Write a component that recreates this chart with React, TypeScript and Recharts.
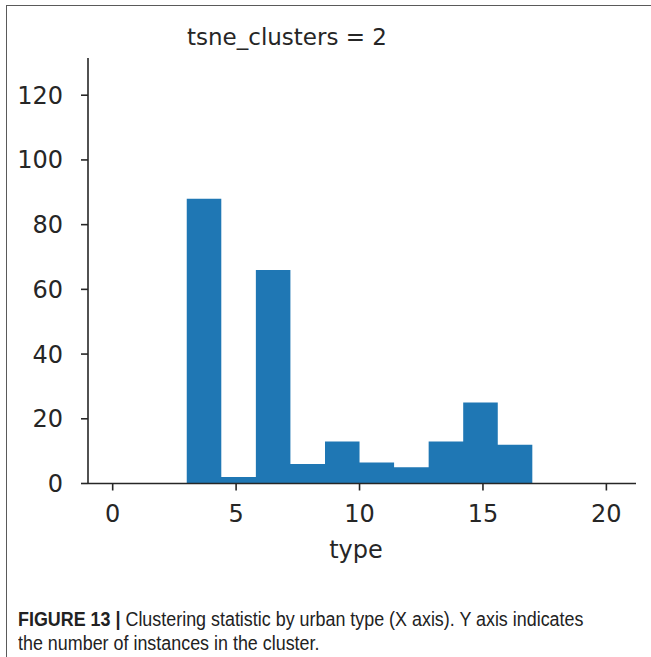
import React from "react";
import { ComposedChart, Area, XAxis, YAxis } from "recharts";

// histogram bins
const binEdges = [3, 4.4, 5.8, 7.2, 8.6, 10, 11.4, 12.8, 14.2, 15.6, 17];
const counts = [88, 2, 66, 6, 13, 6.5, 5, 13, 25, 12];
const xTicks = [0, 5, 10, 15, 20];
const yTicks = [0, 20, 40, 60, 80, 100, 120];

const title = "tsne_clusters = 2";
const xLabel = "type";

// step points: each bin starts at its left edge, the last edge closes it
const stepData = binEdges.map((x, i) => ({ x, y: i < counts.length ? counts[i] : 0 }));

const INK = "#262626";
const BLUE = "#1f77b4";
const FONT = "'DejaVu Sans', sans-serif";

const tickStyle = { fill: INK, fontSize: 24, fontFamily: FONT };

export default function App() {
  return (
    <div
      style={{
        position: "absolute",
        left: 0,
        top: 0,
        width: 651,
        height: 657,
        background: "#fff",
        overflow: "hidden",
      }}
    >
      {/* figure frame, only top and left edges show */}
      <div
        style={{
          position: "absolute",
          left: 6,
          top: 5,
          width: 660,
          height: 670,
          borderTop: "1.5px solid #5a5a5a",
          borderLeft: "1.5px solid #5a5a5a",
        }}
      />

      <div
        style={{
          position: "absolute",
          left: 0,
          top: 24,
          width: 574,
          textAlign: "center",
          fontFamily: FONT,
          fontSize: 23,
          color: INK,
          whiteSpace: "pre",
        }}
      >
        {title}
      </div>

      <div style={{ position: "absolute", left: 0, top: 0 }}>
        <ComposedChart
          width={651}
          height={530}
          data={stepData}
          margin={{ top: 58, right: 15, bottom: 0, left: 8 }}
        >
          <XAxis
            dataKey="x"
            type="number"
            domain={[-1, 21.2]}
            ticks={xTicks}
            allowDataOverflow
            height={46.5}
            tick={tickStyle}
            tickSize={7}
            tickMargin={14}
            axisLine={{ stroke: INK, strokeWidth: 1.6 }}
            tickLine={{ stroke: INK, strokeWidth: 1.6 }}
          />
          <YAxis
            type="number"
            domain={[0, 131.5]}
            ticks={yTicks}
            allowDataOverflow
            width={80}
            tick={tickStyle}
            tickSize={7}
            tickMargin={18}
            axisLine={{ stroke: INK, strokeWidth: 1.6 }}
            tickLine={{ stroke: INK, strokeWidth: 1.6 }}
          />
          <Area
            dataKey="y"
            type="stepAfter"
            baseValue={0}
            stroke="none"
            fill={BLUE}
            fillOpacity={1}
            dot={false}
            activeDot={false}
            isAnimationActive={false}
          />
        </ComposedChart>
      </div>

      <div
        style={{
          position: "absolute",
          left: 300,
          top: 536,
          width: 112,
          textAlign: "center",
          fontFamily: FONT,
          fontSize: 24,
          color: INK,
        }}
      >
        {xLabel}
      </div>

      <div
        style={{
          position: "absolute",
          left: 18,
          top: 607,
          fontFamily: "'Liberation Sans', Arial, sans-serif",
          fontSize: 20,
          lineHeight: "24px",
          color: "#222",
          whiteSpace: "nowrap",
          transform: "scaleX(0.895)",
          transformOrigin: "left top",
        }}
      >
        <div>
          <b>FIGURE 13 |</b> Clustering statistic by urban type (X axis). Y axis indicates
        </div>
        <div>the number of instances in the cluster.</div>
      </div>
    </div>
  );
}
